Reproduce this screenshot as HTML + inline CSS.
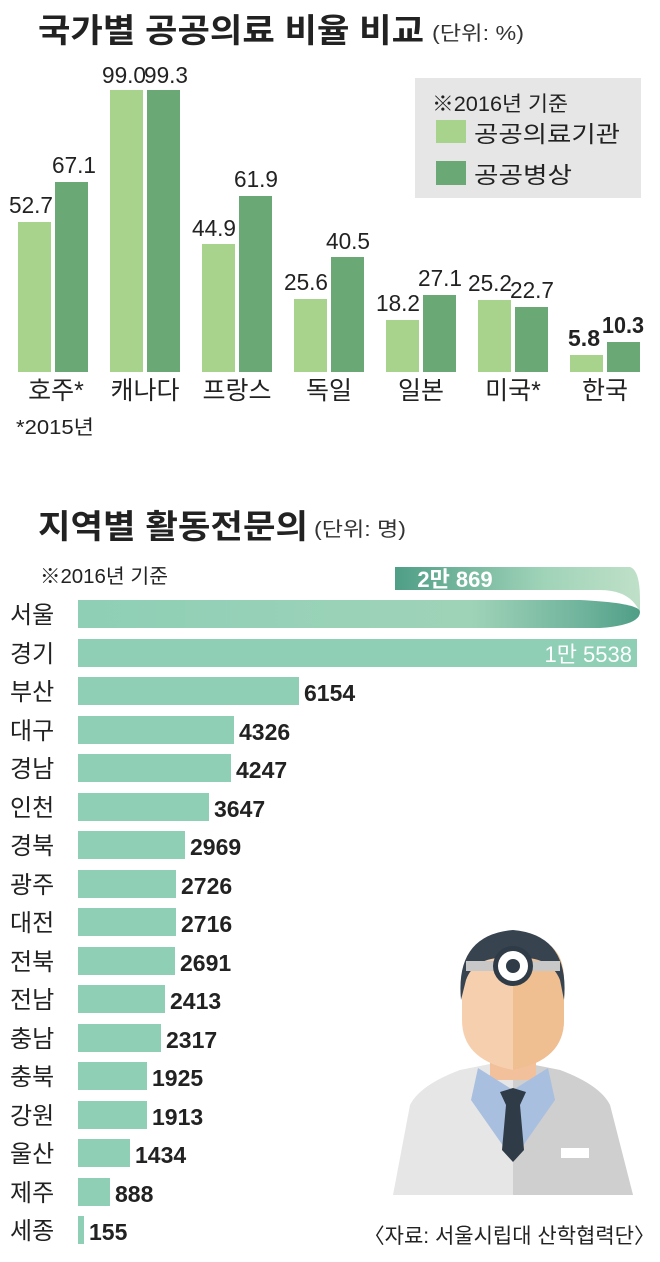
<!DOCTYPE html>
<html><head><meta charset="utf-8"><style>
body{margin:0;width:660px;height:1257px;background:#fff;overflow:hidden;font-family:"Liberation Sans","Noto Sans CJK KR",sans-serif;}
svg text{font-family:"Liberation Sans","Noto Sans CJK KR",sans-serif;}
</style></head><body>
<svg width="660" height="1257" viewBox="0 0 660 1257" xmlns="http://www.w3.org/2000/svg">
<defs>
<linearGradient id="rb" x1="0" x2="1"><stop offset="0" stop-color="#4f9e86"/><stop offset="0.6" stop-color="#9fd3b8"/><stop offset="1" stop-color="#bfe0c8"/></linearGradient>
<linearGradient id="sb" x1="0" x2="1"><stop offset="0" stop-color="#8ecfb6"/><stop offset="0.7" stop-color="#9fd3b8"/><stop offset="0.9" stop-color="#6fb39c"/><stop offset="1" stop-color="#4f9e86"/></linearGradient>
</defs>
<!-- Title 1 -->
<text x="38" y="42" font-size="33" font-weight="bold" fill="#222" textLength="386" lengthAdjust="spacingAndGlyphs">국가별 공공의료 비율 비교</text>
<text x="432" y="40" font-size="20" fill="#333" textLength="92" lengthAdjust="spacingAndGlyphs">(단위: %)</text>
<!-- legend -->
<rect x="415" y="78" width="226" height="120" fill="#e6e6e6"/>
<text x="432" y="111" font-size="21" fill="#222" textLength="136" lengthAdjust="spacingAndGlyphs">※2016년 기준</text>
<rect x="436" y="120" width="30" height="23" fill="#a8d38d"/>
<text x="474" y="142" font-size="23" fill="#222" textLength="146" lengthAdjust="spacingAndGlyphs">공공의료기관</text>
<rect x="436" y="161" width="30" height="24" fill="#6aa875"/>
<text x="474" y="183" font-size="23" fill="#222" textLength="98" lengthAdjust="spacingAndGlyphs">공공병상</text>
<!-- bars -->
<g fill="#a8d38d">
<rect x="18" y="222" width="33" height="150"/>
<rect x="110" y="90" width="33" height="282"/>
<rect x="202" y="244" width="33" height="128"/>
<rect x="294" y="299" width="33" height="73"/>
<rect x="386" y="320" width="33" height="52"/>
<rect x="478" y="300" width="33" height="72"/>
<rect x="570" y="355" width="33" height="17"/>
</g>
<g fill="#6aa875">
<rect x="55" y="182" width="33" height="190"/>
<rect x="147" y="90" width="33" height="282"/>
<rect x="239" y="196" width="33" height="176"/>
<rect x="331" y="257" width="33" height="115"/>
<rect x="423" y="295" width="33" height="77"/>
<rect x="515" y="307" width="33" height="65"/>
<rect x="607" y="342" width="33" height="30"/>
</g>
<g font-size="23" fill="#222" text-anchor="middle">
<text x="31" y="213" textLength="44" lengthAdjust="spacingAndGlyphs">52.7</text>
<text x="74" y="173" textLength="44" lengthAdjust="spacingAndGlyphs">67.1</text>
<text x="124" y="83" textLength="44" lengthAdjust="spacingAndGlyphs">99.0</text>
<text x="166" y="83" textLength="44" lengthAdjust="spacingAndGlyphs">99.3</text>
<text x="214" y="236" textLength="44" lengthAdjust="spacingAndGlyphs">44.9</text>
<text x="256" y="187" textLength="44" lengthAdjust="spacingAndGlyphs">61.9</text>
<text x="306" y="290" textLength="44" lengthAdjust="spacingAndGlyphs">25.6</text>
<text x="348" y="249" textLength="44" lengthAdjust="spacingAndGlyphs">40.5</text>
<text x="398" y="311" textLength="44" lengthAdjust="spacingAndGlyphs">18.2</text>
<text x="440" y="286" textLength="44" lengthAdjust="spacingAndGlyphs">27.1</text>
<text x="490" y="291" textLength="44" lengthAdjust="spacingAndGlyphs">25.2</text>
<text x="532" y="298" textLength="44" lengthAdjust="spacingAndGlyphs">22.7</text>
<text x="584" y="346" font-weight="bold" textLength="32" lengthAdjust="spacingAndGlyphs">5.8</text>
<text x="623" y="333" font-weight="bold" textLength="42" lengthAdjust="spacingAndGlyphs">10.3</text>
</g>
<g font-size="25" fill="#222" text-anchor="middle">
<text x="56" y="399">호주*</text>
<text x="145" y="399">캐나다</text>
<text x="237" y="399">프랑스</text>
<text x="329" y="399">독일</text>
<text x="421" y="399">일본</text>
<text x="513" y="399">미국*</text>
<text x="605" y="399">한국</text>
</g>
<text x="16" y="434" font-size="20" fill="#222" textLength="78" lengthAdjust="spacingAndGlyphs">*2015년</text>
<!-- Title 2 -->
<text x="38" y="538" font-size="33" font-weight="bold" fill="#222" textLength="270" lengthAdjust="spacingAndGlyphs">지역별 활동전문의</text>
<text x="314" y="536" font-size="20" fill="#333" textLength="92" lengthAdjust="spacingAndGlyphs">(단위: 명)</text>
<text x="40" y="583" font-size="20" fill="#222" textLength="128" lengthAdjust="spacingAndGlyphs">※2016년 기준</text>
<!-- Seoul ribbon -->
<path d="M395 567 L630 567 Q640 570 640 600 L640 612 Q630 590 600 590 L395 590 Z" fill="url(#rb)"/>
<text x="455" y="587" font-size="22" font-weight="bold" fill="#fff" text-anchor="middle">2만 869</text>
<path d="M78 600 L580 600 Q640 603 640 612 Q640 625 600 628 L78 628 Z" fill="url(#sb)"/>
<rect x="78" y="639" width="559" height="28" fill="#8ecfb6"/>
<text x="632" y="662" font-size="22" fill="#fff" text-anchor="end">1만 5538</text>
<g fill="#8ecfb6">
<rect x="78" y="677" width="221" height="28"/>
<rect x="78" y="716" width="156" height="28"/>
<rect x="78" y="754" width="153" height="28"/>
<rect x="78" y="793" width="131" height="28"/>
<rect x="78" y="831" width="107" height="28"/>
<rect x="78" y="870" width="98" height="28"/>
<rect x="78" y="908" width="98" height="28"/>
<rect x="78" y="947" width="97" height="28"/>
<rect x="78" y="985" width="87" height="28"/>
<rect x="78" y="1024" width="83" height="28"/>
<rect x="78" y="1062" width="69" height="28"/>
<rect x="78" y="1101" width="69" height="28"/>
<rect x="78" y="1139" width="52" height="28"/>
<rect x="78" y="1178" width="32" height="28"/>
<rect x="78" y="1216" width="6" height="28"/>
</g>
<g font-size="23" font-weight="bold" fill="#222">
<text x="304" y="701">6154</text>
<text x="239" y="740">4326</text>
<text x="236" y="778">4247</text>
<text x="214" y="817">3647</text>
<text x="190" y="855">2969</text>
<text x="181" y="894">2726</text>
<text x="181" y="932">2716</text>
<text x="180" y="971">2691</text>
<text x="170" y="1009">2413</text>
<text x="166" y="1048">2317</text>
<text x="152" y="1086">1925</text>
<text x="152" y="1125">1913</text>
<text x="135" y="1163">1434</text>
<text x="115" y="1202">888</text>
<text x="89" y="1240">155</text>
</g>
<g font-size="24" fill="#222">
<text x="10" y="623">서울</text><text x="10" y="662">경기</text><text x="10" y="700">부산</text>
<text x="10" y="739">대구</text><text x="10" y="777">경남</text><text x="10" y="816">인천</text>
<text x="10" y="854">경북</text><text x="10" y="893">광주</text><text x="10" y="931">대전</text>
<text x="10" y="970">전북</text><text x="10" y="1008">전남</text><text x="10" y="1047">충남</text>
<text x="10" y="1085">충북</text><text x="10" y="1124">강원</text><text x="10" y="1162">울산</text>
<text x="10" y="1201">제주</text><text x="10" y="1239">세종</text>
</g>
<!-- doctor -->
<g>
<path d="M393 1195 L410 1105 Q420 1085 460 1070 L500 1062 L520 1062 L560 1070 Q600 1085 610 1105 L633 1195 Z" fill="#e6e6e6"/>
<path d="M513 1062 L520 1062 L560 1070 Q600 1085 610 1105 L633 1195 L513 1195 Z" fill="#cfcfcf"/>
<rect x="490" y="1050" width="46" height="30" fill="#f2c09a"/>
<path d="M478 1068 L513 1090 L548 1068 L555 1100 L513 1160 L471 1100 Z" fill="#a9bfdf"/>
<path d="M500 1092 L513 1088 L526 1092 L520 1105 L524 1150 L513 1162 L502 1150 L506 1105 Z" fill="#2f3b47"/>
<rect x="561" y="1148" width="28" height="10" fill="#fff"/>
<path d="M462 980 Q462 935 513 935 Q564 935 564 980 L564 1020 Q564 1060 513 1070 Q462 1060 462 1020 Z" fill="#f6d0ae"/>
<path d="M513 935 Q564 935 564 980 L564 1020 Q564 1060 513 1070 Z" fill="#efbe91"/>
<path d="M461 1000 Q455 935 513 930 Q570 935 564 1000 L560 980 Q550 955 513 958 Q475 955 466 980 Z" fill="#37434f"/>
<rect x="466" y="961" width="94" height="10" fill="#c8c8c8"/>
<circle cx="513" cy="966" r="20" fill="#2f3b47"/>
<circle cx="513" cy="966" r="15" fill="#fff"/>
<circle cx="513" cy="966" r="7" fill="#2f3b47"/>
</g>
<text x="655" y="1243" font-size="21" fill="#222" text-anchor="end">〈자료: 서울시립대 산학협력단〉</text>
</svg>
</body></html>
